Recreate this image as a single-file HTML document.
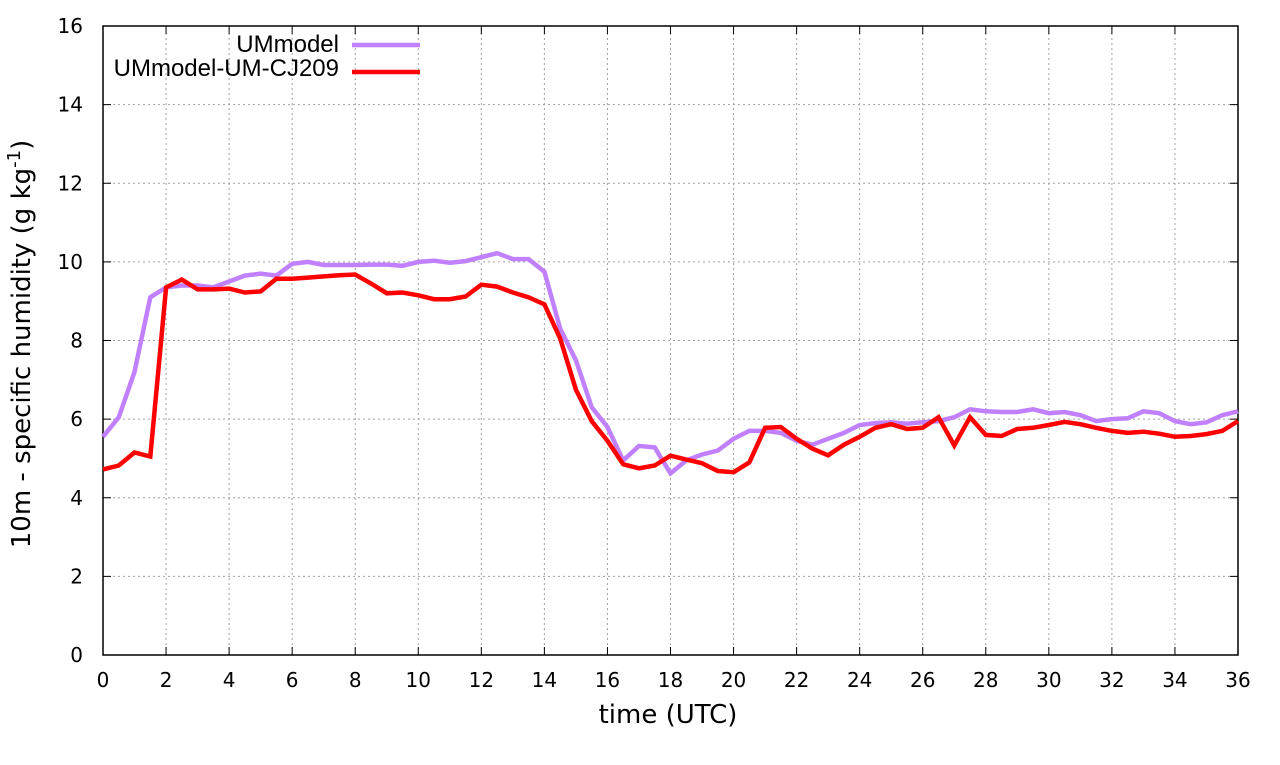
<!DOCTYPE html>
<html><head><meta charset="utf-8"><style>
body{margin:0;background:#fff;}
svg text{font-family:"DejaVu Sans",sans-serif;fill:#000;}
</style></head><body>
<svg id="chart" width="1280" height="760" xmlns="http://www.w3.org/2000/svg">
<g id="grid"></g>
<g id="axes"></g>
<g id="series"></g>
<text x="668" y="723" font-size="26" text-anchor="middle">time (UTC)</text>
<text transform="translate(30,344) rotate(-90)" font-size="26" text-anchor="middle">10m - specific humidity (g kg<tspan font-size="18" dy="-10">-1</tspan><tspan dy="10">)</tspan></text>
<g>
<text x="339" y="52" font-size="24" text-anchor="end" style="font-family:'Liberation Sans',sans-serif">UMmodel</text>
<line x1="352" y1="45" x2="420" y2="45" stroke="#c080ff" stroke-width="4.5"/>
<text x="339" y="76" font-size="24" text-anchor="end" style="font-family:'Liberation Sans',sans-serif">UMmodel-UM-CJ209</text>
<line x1="352" y1="72" x2="420" y2="72" stroke="#ff0000" stroke-width="4.5"/>
</g>
</svg>
<script>
const xTicks=[0,2,4,6,8,10,12,14,16,18,20,22,24,26,28,30,32,34,36];
const yTicks=[0,2,4,6,8,10,12,14,16];
const umModel=[5.55,6.05,7.2,9.1,9.35,9.4,9.4,9.35,9.5,9.65,9.7,9.65,9.95,10.0,9.92,9.92,9.92,9.93,9.93,9.9,10.0,10.03,9.98,10.02,10.12,10.22,10.07,10.07,9.75,8.3,7.5,6.3,5.8,4.95,5.32,5.28,4.62,4.95,5.1,5.2,5.5,5.7,5.7,5.65,5.45,5.35,5.5,5.65,5.85,5.9,5.92,5.88,5.92,5.95,6.05,6.25,6.2,6.18,6.18,6.25,6.15,6.18,6.1,5.95,6.0,6.02,6.2,6.15,5.95,5.87,5.92,6.1,6.2];
const umCJ209=[4.72,4.82,5.15,5.05,9.35,9.55,9.3,9.3,9.32,9.22,9.25,9.57,9.57,9.6,9.63,9.66,9.68,9.45,9.2,9.22,9.15,9.05,9.05,9.12,9.42,9.37,9.22,9.1,8.92,8.05,6.75,5.95,5.45,4.85,4.75,4.82,5.07,4.97,4.88,4.68,4.65,4.9,5.78,5.8,5.5,5.25,5.08,5.35,5.55,5.78,5.87,5.75,5.78,6.05,5.33,6.05,5.6,5.57,5.75,5.78,5.85,5.93,5.87,5.78,5.7,5.65,5.68,5.63,5.55,5.57,5.62,5.7,5.95];
const timeStep=0.5;
const X0=103,X1=1238,Y0=655,Y1=26;
const xs=v=>X0+(v-0)/36*(X1-X0);
const ys=v=>Y0-(v-0)/16*(Y0-Y1);
const NS='http://www.w3.org/2000/svg';
function mk(tag,attrs,parent){const e=document.createElementNS(NS,tag);for(const k in attrs)e.setAttribute(k,attrs[k]);parent.appendChild(e);return e;}
const grid=document.getElementById('grid'),axes=document.getElementById('axes'),series=document.getElementById('series');
xTicks.forEach(t=>{
  const x=xs(t);
  if(t>0&&t<36){const g=mk('line',{x1:x,y1:Y0,x2:x,y2:Y1,stroke:'#a0a0a0','stroke-width':1,'stroke-dasharray':'2,3'},grid);
  
  }
  mk('line',{x1:x,y1:Y0,x2:x,y2:Y0-8,stroke:'#000'},axes);
  mk('line',{x1:x,y1:Y1,x2:x,y2:Y1+8,stroke:'#000'},axes);
  const tx=mk('text',{x:x,y:Y0+32,'font-size':20,'text-anchor':'middle'},axes);tx.textContent=t;
  
  
});
yTicks.forEach(t=>{
  const y=ys(t);
  if(t>0&&t<16){const g=mk('line',{x1:X0,y1:y,x2:X1,y2:y,stroke:'#a0a0a0','stroke-width':1,'stroke-dasharray':'2,3'},grid);
  
  }
  mk('line',{x1:X0,y1:y,x2:X0+8,y2:y,stroke:'#000'},axes);
  mk('line',{x1:X1,y1:y,x2:X1-8,y2:y,stroke:'#000'},axes);
  const tx=mk('text',{x:X0-20,y:y+7,'font-size':20,'text-anchor':'end'},axes);tx.textContent=t;
  
  
});
const frame=mk('rect',{x:X0,y:Y1,width:X1-X0,height:Y0-Y1,fill:'none',stroke:'#000','stroke-width':1.5},axes);


function line(vals,color,name){
  const d=vals.map((v,i)=>(i?'L':'M')+xs(i*timeStep).toFixed(1)+','+ys(v).toFixed(1)).join('');
  const p=mk('path',{d:d,fill:'none',stroke:color,'stroke-width':4.5,'stroke-linejoin':'miter'},series);
  
  
}
line(umModel,'#c080ff','ummodel-line');
line(umCJ209,'#ff0000','ummodel-um-cj209-line');
</script>
</body></html>
